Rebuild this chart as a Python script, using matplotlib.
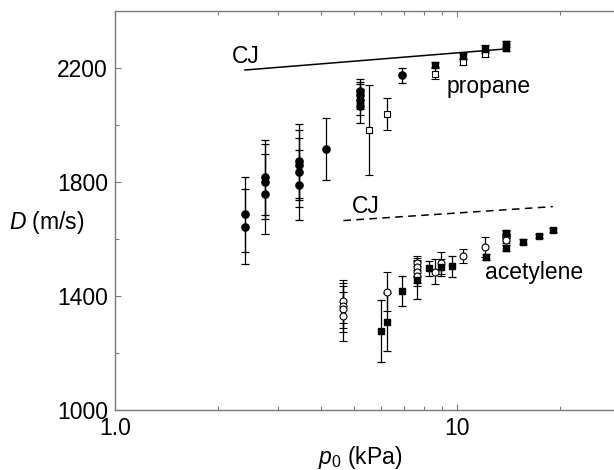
import matplotlib
matplotlib.use("Agg")
import matplotlib.pyplot as plt
from matplotlib.ticker import FixedLocator, NullFormatter, FixedFormatter

plt.rcParams['font.family'] = ['Liberation Sans', 'DejaVu Sans']
plt.rcParams['mathtext.fontset'] = 'custom'
plt.rcParams['mathtext.rm'] = 'Liberation Sans'
plt.rcParams['mathtext.it'] = 'Liberation Sans:italic'

# ---- data ----
prop_fc_p = [2.40, 2.40, 2.75, 2.75, 2.75, 3.45, 3.45, 3.45, 3.45, 4.14, 5.19, 5.19, 5.19, 5.19, 6.90]
prop_fc_D = [1688, 1644, 1818, 1803, 1760, 1874, 1861, 1835, 1791, 1917, 2120, 2105, 2090, 2068, 2176]
prop_fc_err = [132, 132, 132, 132, 140, 130, 123, 120, 123, 110, 43, 46, 55, 60, 26]

prop_os_p = [5.52, 6.22, 8.63, 10.37, 12.07]
prop_os_D = [1983, 2039, 2181, 2223, 2249]
prop_os_err = [157, 56, 20, 10, 10]

prop_fs_p = [8.63, 10.37, 12.07, 13.85, 13.85]
prop_fs_D = [2213, 2243, 2268, 2285, 2272]
prop_fs_err = [10, 12, 15, 12, 12]

acet_oc_p = [4.63, 4.63, 4.63, 4.63, 6.22, 7.61, 7.61, 7.61, 7.61, 8.61, 8.96, 10.37, 12.05, 13.85, 13.85, 13.85]
acet_oc_D = [1383, 1368, 1355, 1330, 1417, 1517, 1503, 1487, 1473, 1487, 1517, 1541, 1573, 1618, 1608, 1598]
acet_oc_err = [75, 79, 80, 85, 68, 25, 33, 41, 35, 44, 40, 25, 36, 12, 12, 12]

acet_fs_p = [5.99, 6.22, 6.91, 7.61, 8.28, 8.96, 9.67, 12.1, 13.85, 13.85, 15.55, 17.32, 18.99]
acet_fs_D = [1279, 1310, 1420, 1458, 1499, 1503, 1505, 1538, 1622, 1571, 1592, 1612, 1633]
acet_fs_err = [109, 103, 52, 67, 27, 30, 37, 10, 10, 10, 8, 8, 8]

cj_prop_p = [2.40, 13.85]
cj_prop_D = [2194, 2268]
cj_acet_p = [4.65, 19.0]
cj_acet_D = [1666, 1715]

x_major = [1, 10]
x_major_labels = ['1.0', '10']
x_minor = [2, 3, 4, 5, 6, 7, 8, 9, 20]
y_major = [1000, 1400, 1800, 2200]
y_minor = [1200, 1600, 2000]

# ---- figure ----
fig = plt.figure(figsize=(6.14, 4.70), dpi=100)
ax = fig.add_axes([0.1868, 0.1266, 0.8243, 0.8494])
ax.set_xscale('log')
ax.set_xlim(1, 30)
ax.set_ylim(1000, 2400)

ebkw = dict(ecolor='black', elinewidth=0.9, capsize=3.2, capthick=0.9, linestyle='none')
ax.errorbar(prop_fc_p, prop_fc_D, yerr=prop_fc_err, fmt='o', ms=5.2, mfc='black', mec='black', **ebkw)
ax.errorbar(prop_os_p, prop_os_D, yerr=prop_os_err, fmt='s', ms=4.0, mfc='white', mec='black', mew=0.8, **ebkw)
ax.errorbar(prop_fs_p, prop_fs_D, yerr=prop_fs_err, fmt='s', ms=4.2, mfc='black', mec='black', **ebkw)
ax.errorbar(acet_oc_p, acet_oc_D, yerr=acet_oc_err, fmt='o', ms=5.0, mfc='white', mec='black', mew=0.8, **ebkw)
ax.errorbar(acet_fs_p, acet_fs_D, yerr=acet_fs_err, fmt='s', ms=4.2, mfc='black', mec='black', **ebkw)

ax.plot(cj_prop_p, cj_prop_D, color='black', lw=1.1)
ax.plot(cj_acet_p, cj_acet_D, color='black', lw=1.1, dashes=(5, 3.5))

tfs = 16.5
ax.text(2.20, 2219, 'CJ', fontsize=tfs, ha='left', va='baseline')
ax.text(9.33, 2114, 'propane', fontsize=tfs, ha='left', va='baseline')
ax.text(4.93, 1693, 'CJ', fontsize=tfs, ha='left', va='baseline')
ax.text(12.05, 1462, 'acetylene', fontsize=tfs, ha='left', va='baseline')

# ticks
ax.xaxis.set_major_locator(FixedLocator(x_major))
ax.xaxis.set_major_formatter(FixedFormatter(x_major_labels))
ax.xaxis.set_minor_locator(FixedLocator(x_minor))
ax.xaxis.set_minor_formatter(NullFormatter())
ax.yaxis.set_major_locator(FixedLocator(y_major))
ax.yaxis.set_minor_locator(FixedLocator(y_minor))

gray = '#7a7a7a'
for s in ['left', 'bottom', 'top']:
    ax.spines[s].set_color(gray)
    ax.spines[s].set_linewidth(1.0)
ax.spines['right'].set_visible(False)
ax.tick_params(which='both', direction='in', colors=gray, labelcolor='black',
               top=True, right=False, labelsize=16.5, pad=5)
ax.tick_params(which='major', length=4, width=0.8)
ax.tick_params(which='minor', length=3, width=0.8)

ax.set_xlabel('$p_0$ (kPa)', fontsize=16.5)
ax.xaxis.set_label_coords(0.485, -0.085)
ax.set_ylabel('$D$ (m/s)', fontsize=16.5, rotation=0, ha='center', va='center')
ax.yaxis.set_label_coords(-0.135, 0.472)

fig.savefig('out.png', dpi=100)
